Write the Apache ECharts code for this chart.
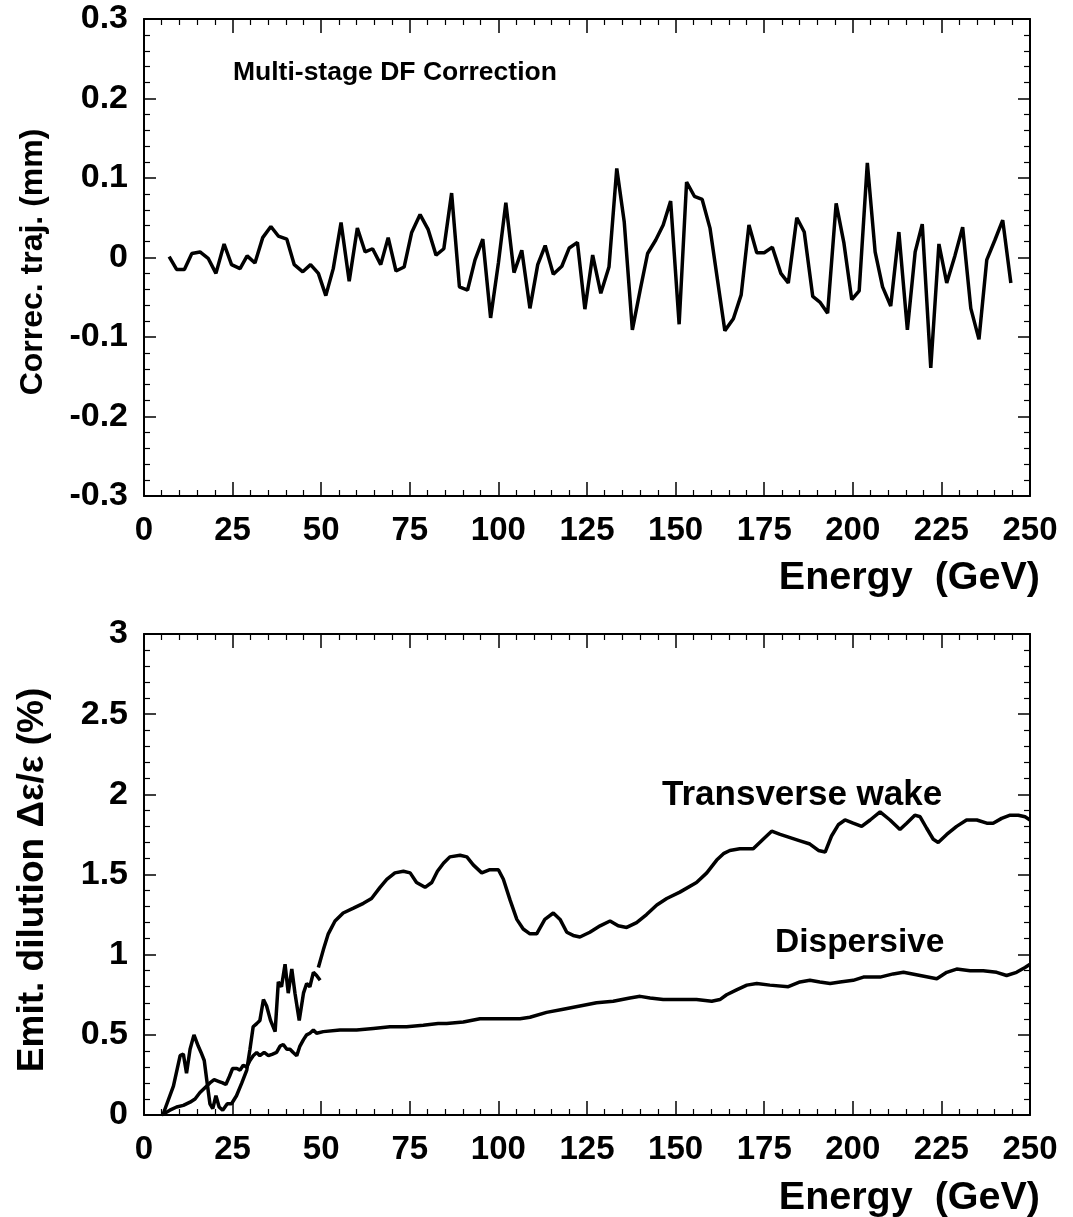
<!DOCTYPE html>
<html>
<head>
<meta charset="utf-8">
<script src="https://cdn.jsdelivr.net/npm/echarts@6/dist/echarts.min.js"></script>
<style>
  html, body { margin: 0; padding: 0; background: #fff; }
  #chart { width: 1073px; height: 1217px; }
</style>
</head>
<body>
<div id="chart"></div>
<script>
// ---------- Data ----------
const xTicks = [0, 25, 50, 75, 100, 125, 150, 175, 200, 225, 250];

// Top panel: correction trajectory (mm) vs energy (GeV)
const topX = [7.1, 9.2, 11.4, 13.5, 15.8, 18.1, 20.3, 22.6, 24.7, 27.1, 29.1, 31.3, 33.5, 35.8, 37.9, 40.3, 42.4, 44.8, 47.0, 49.2,
  51.3, 53.4, 55.6, 57.9, 60.2, 62.4, 64.5, 66.8, 68.9, 71.1, 73.4, 75.5, 77.9, 80.2, 82.4, 84.6, 86.8, 89.0, 91.3, 93.4,
  95.6, 97.8, 100.0, 102.1, 104.4, 106.6, 108.9, 111.1, 113.2, 115.5, 117.9, 120.0, 122.3, 124.4, 126.6, 128.9, 131.2, 133.4, 135.5, 137.8,
  140.0, 142.1, 144.4, 146.5, 148.6, 151.0, 153.1, 155.3, 157.5, 159.7, 163.9, 166.3, 168.5, 170.7, 172.9, 175.0, 177.3, 179.7, 181.8, 184.2,
  186.3, 188.7, 190.7, 192.9, 195.3, 197.5, 199.7, 201.8, 204.1, 206.3, 208.4, 210.7, 213.0, 215.4, 217.6, 219.6, 222.0, 224.3, 226.5, 228.8,
  231.0, 233.3, 235.6, 237.8, 240.1, 242.3, 244.6];
const topY = [0.001, -0.015, -0.015, 0.005, 0.007, -0.001, -0.020, 0.017, -0.009, -0.014, 0.002, -0.007, 0.025, 0.039, 0.027, 0.023, -0.009, -0.018, -0.009, -0.020,
  -0.048, -0.014, 0.044, -0.030, 0.037, 0.007, 0.011, -0.009, 0.025, -0.017, -0.012, 0.031, 0.054, 0.035, 0.003, 0.011, 0.081, -0.037, -0.041, -0.003,
  0.023, -0.076, -0.007, 0.069, -0.019, 0.009, -0.064, -0.009, 0.015, -0.021, -0.011, 0.012, 0.019, -0.065, 0.003, -0.045, -0.012, 0.112, 0.045, -0.091,
  -0.041, 0.005, 0.022, 0.041, 0.071, -0.084, 0.095, 0.077, 0.073, 0.037, -0.092, -0.077, -0.047, 0.041, 0.006, 0.006, 0.013, -0.020, -0.032, 0.050,
  0.032, -0.049, -0.056, -0.070, 0.068, 0.018, -0.053, -0.042, 0.119, 0.007, -0.037, -0.061, 0.032, -0.091, 0.007, 0.042, -0.139, 0.017, -0.032, 0.002,
  0.038, -0.064, -0.103, -0.003, 0.022, 0.047, -0.032];

// Bottom panel: transverse wake, low-energy noisy part
const wakeLowX = [5.3, 8.3, 10.2, 11.1, 12.0, 13.0, 14.1, 15.3, 16.1, 17.0, 17.7, 18.6, 19.4, 20.3, 21.2, 22.2, 23.5, 24.7, 26.1, 27.6,
  29.0, 29.9, 30.8, 31.8, 32.7, 33.7, 34.6, 35.7, 37.0, 37.9, 38.8, 39.8, 40.7, 41.7, 42.6, 43.8, 45.0, 45.9, 46.8, 47.8, 48.7, 49.7];
const wakeLowY = [0.0, 0.18, 0.37, 0.38, 0.26, 0.41, 0.50, 0.43, 0.39, 0.34, 0.22, 0.07, 0.04, 0.12, 0.05, 0.03, 0.07, 0.07, 0.12, 0.20,
  0.28, 0.41, 0.55, 0.57, 0.59, 0.72, 0.68, 0.59, 0.52, 0.83, 0.80, 0.94, 0.76, 0.91, 0.76, 0.59, 0.76, 0.82, 0.80, 0.89, 0.87, 0.84];

// Bottom panel: transverse wake, smooth part
const wakeX = [49.2, 50.6, 52.0, 53.9, 56.2, 59.1, 61.9, 64.2, 66.6, 68.5, 70.8, 73.2, 75.1, 76.9, 79.3, 81.2, 82.8, 84.5, 86.3, 89.2,
  91.1, 92.9, 95.3, 97.6, 100.0, 101.4, 103.3, 105.2, 107.0, 108.9, 110.8, 113.1, 115.5, 117.4, 119.3, 121.1, 123.0, 125.8, 128.7, 131.5,
  133.8, 136.2, 139.0, 141.8, 144.7, 147.5, 151.2, 155.9, 158.8, 161.6, 163.5, 165.3, 168.1, 171.9, 174.7, 177.1, 179.5, 182.3, 185.1, 187.9,
  190.3, 192.2, 194.0, 195.9, 197.8, 200.1, 202.5, 204.9, 207.7, 210.5, 213.3, 215.2, 217.5, 219.0, 220.8, 222.7, 224.1, 226.5, 229.3, 232.1,
  235.0, 237.8, 239.6, 242.0, 244.4, 246.7, 248.6, 250.0];
const wakeY = [0.92, 1.03, 1.13, 1.21, 1.26, 1.29, 1.32, 1.35, 1.42, 1.47, 1.51, 1.52, 1.51, 1.45, 1.42, 1.45, 1.52, 1.57, 1.61, 1.62,
  1.61, 1.56, 1.51, 1.53, 1.53, 1.47, 1.34, 1.22, 1.16, 1.13, 1.13, 1.22, 1.26, 1.22, 1.14, 1.12, 1.11, 1.14, 1.18, 1.21,
  1.18, 1.17, 1.20, 1.25, 1.31, 1.35, 1.39, 1.45, 1.51, 1.59, 1.63, 1.65, 1.66, 1.66, 1.72, 1.77, 1.75, 1.73, 1.71, 1.69,
  1.65, 1.64, 1.74, 1.81, 1.84, 1.82, 1.80, 1.84, 1.89, 1.84, 1.78, 1.82, 1.87, 1.86, 1.79, 1.72, 1.70, 1.75, 1.80, 1.84,
  1.84, 1.82, 1.82, 1.85, 1.87, 1.87, 1.86, 1.84];

// Bottom panel: dispersive
const dispX = [5.0, 7.3, 9.2, 11.1, 13.0, 14.4, 15.8, 17.2, 18.6, 19.8, 21.0, 22.2, 23.1, 24.1, 25.0, 26.2, 27.1, 28.0, 29.0, 29.9,
  30.8, 31.8, 32.7, 33.9, 35.1, 36.3, 37.4, 38.4, 39.3, 40.3, 41.2, 42.1, 43.1, 44.0, 45.0, 45.9, 46.8, 47.8, 48.7, 50.6,
  55.3, 60.0, 64.7, 69.4, 74.1, 78.8, 83.0, 85.4, 90.1, 94.8, 99.5, 106.1, 108.9, 113.6, 118.3, 123.0, 127.7, 132.4, 137.1, 140.0,
  142.8, 146.5, 151.2, 155.9, 160.2, 162.5, 164.4, 167.2, 170.1, 172.9, 176.6, 181.8, 185.1, 187.9, 190.7, 193.6, 196.4, 200.1, 203.0, 207.7,
  211.4, 214.3, 219.0, 223.7, 226.5, 229.3, 233.1, 236.8, 240.6, 243.4, 246.2, 248.6, 250.0];
const dispY = [0.0, 0.03, 0.05, 0.06, 0.08, 0.10, 0.14, 0.17, 0.20, 0.22, 0.21, 0.20, 0.19, 0.24, 0.29, 0.29, 0.28, 0.31, 0.30, 0.34,
  0.37, 0.39, 0.37, 0.39, 0.37, 0.38, 0.39, 0.43, 0.44, 0.41, 0.41, 0.39, 0.37, 0.43, 0.47, 0.50, 0.51, 0.53, 0.51, 0.52,
  0.53, 0.53, 0.54, 0.55, 0.55, 0.56, 0.57, 0.57, 0.58, 0.60, 0.60, 0.60, 0.61, 0.64, 0.66, 0.68, 0.70, 0.71, 0.73, 0.74,
  0.73, 0.72, 0.72, 0.72, 0.71, 0.72, 0.75, 0.78, 0.81, 0.82, 0.81, 0.80, 0.83, 0.84, 0.83, 0.82, 0.83, 0.84, 0.86, 0.86,
  0.88, 0.89, 0.87, 0.85, 0.89, 0.91, 0.90, 0.90, 0.89, 0.87, 0.89, 0.92, 0.94];

// Text
const topTitle = 'Multi-stage DF Correction';
const topYName = 'Correc. traj. (mm)';
const botYName = 'Emit. dilution \u0394\u03b5/\u03b5 (%)';
const xName = 'Energy  (GeV)';
const wakeLabel = 'Transverse wake';
const dispLabel = 'Dispersive';

// ---------- Chart ----------
const FONT = '"Liberation Sans", Arial, Helvetica, sans-serif';
const pair = (xs, ys) => xs.map((x, i) => [x, ys[i]]);

const axisLine = { show: true, onZero: false, lineStyle: { color: '#000', width: 2 } };

function xAx(grid, pos, labels) {
  return {
    type: 'value', gridIndex: grid, position: pos, min: 0, max: 250, interval: 25,
    axisLine: axisLine,
    axisTick: { show: true, inside: true, length: 14, lineStyle: { color: '#000', width: 1.5 } },
    minorTick: { show: true, splitNumber: 5, length: 6, lineStyle: { color: '#000', width: 1.2 } },
    splitLine: { show: false }, minorSplitLine: { show: false },
    axisLabel: labels ? { show: true, color: '#000', fontFamily: FONT, fontSize: 33, fontWeight: 'bold', margin: 18 } : { show: false }
  };
}
function yAx(grid, pos, min, max, interval, labels) {
  return {
    type: 'value', gridIndex: grid, position: pos, min: min, max: max, interval: interval,
    axisLine: axisLine,
    axisTick: { show: true, inside: true, length: 12, lineStyle: { color: '#000', width: 1.5 } },
    minorTick: { show: true, splitNumber: 5, length: 6, lineStyle: { color: '#000', width: 1.2 } },
    splitLine: { show: false }, minorSplitLine: { show: false },
    axisLabel: labels ? { show: true, color: '#000', fontFamily: FONT, fontSize: 34, fontWeight: 'bold', margin: 16 } : { show: false }
  };
}

const lineStyle = { color: '#000', width: 3.5 };
function ser(name, xi, yi, data) {
  return { name: name, type: 'line', xAxisIndex: xi, yAxisIndex: yi, data: data,
    showSymbol: false, symbol: 'none', lineStyle: lineStyle, silent: true, z: 3 };
}

function txt(x, y, text, size, align, rot) {
  return { type: 'text', x: x, y: y, rotation: rot || 0, z: 10,
    style: { text: text, fill: '#000', font: 'bold ' + size + 'px ' + FONT, textAlign: align, textVerticalAlign: 'middle' } };
}

const chart = echarts.init(document.getElementById('chart'), null, { renderer: 'canvas' });
chart.setOption({
  animation: false,
  backgroundColor: '#fff',
  grid: [
    { left: 144, top: 19, width: 886, height: 477 },
    { left: 144, top: 634, width: 886, height: 481 }
  ],
  xAxis: [ xAx(0, 'bottom', true), xAx(0, 'top', false), xAx(1, 'bottom', true), xAx(1, 'top', false) ],
  yAxis: [ yAx(0, 'left', -0.3, 0.3, 0.1, true), yAx(0, 'right', -0.3, 0.3, 0.1, false),
           yAx(1, 'left', 0, 3, 0.5, true), yAx(1, 'right', 0, 3, 0.5, false) ],
  series: [
    ser('Correction', 0, 0, pair(topX, topY)),
    ser('Transverse wake (low)', 2, 2, pair(wakeLowX, wakeLowY)),
    ser('Transverse wake', 2, 2, pair(wakeX, wakeY)),
    ser('Dispersive', 2, 2, pair(dispX, dispY))
  ],
  graphic: [
    txt(233, 73, topTitle, 26.5, 'left'),
    txt(662, 795, wakeLabel, 35, 'left'),
    txt(775, 943, dispLabel, 33.5, 'left'),
    txt(1040, 578, xName, 39.5, 'right'),
    txt(1040, 1198, xName, 39.5, 'right'),
    txt(33, 262, topYName, 32, 'center', Math.PI / 2),
    txt(33, 880, botYName, 37, 'center', Math.PI / 2)
  ]
});
</script>
</body>
</html>
